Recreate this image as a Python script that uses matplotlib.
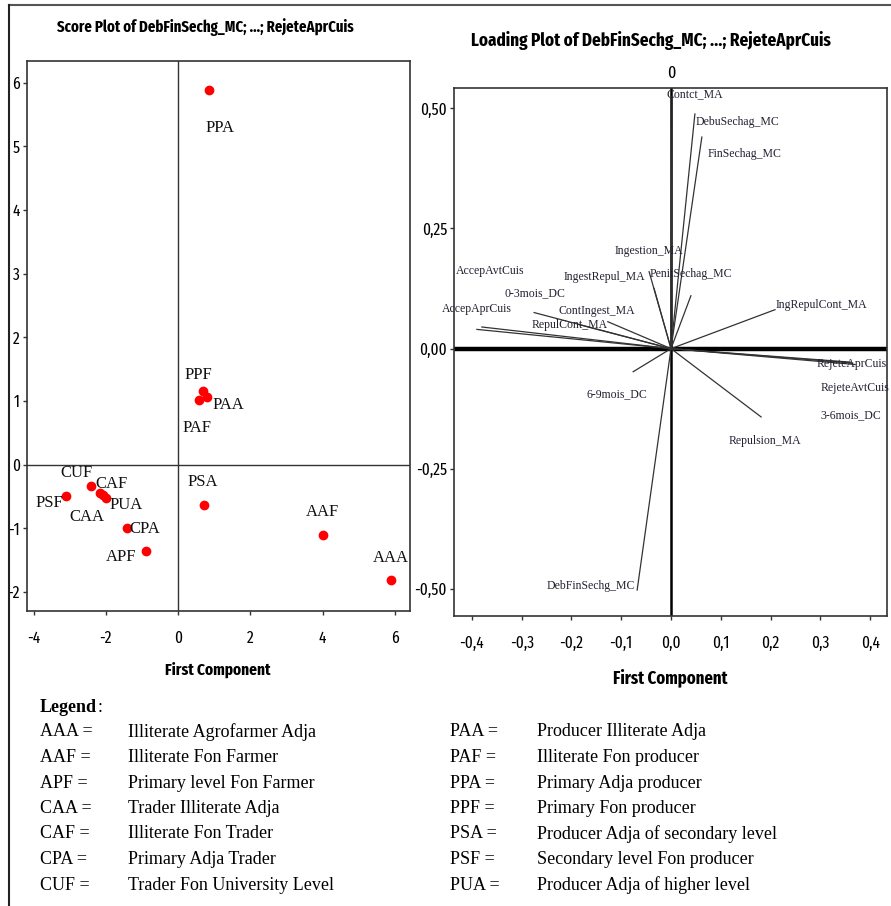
import matplotlib
matplotlib.use("Agg")
import matplotlib.pyplot as plt
import matplotlib.transforms as mtransforms
from matplotlib import font_manager
from matplotlib.ticker import FixedLocator, FuncFormatter

# ---- score plot data (PC1, PC2) ----
groups = ["PPA", "PPF", "PAA", "PAF", "CUF", "CAF", "CAA", "PUA", "PSF", "CPA", "APF", "PSA", "AAF", "AAA"]
score_pc1 = [0.86, 0.69, 0.80, 0.58, -2.41, -2.15, -2.08, -1.99, -3.10, -1.41, -0.89, 0.72, 4.01, 5.89]
score_pc2 = [5.88, 1.16, 1.06, 1.02, -0.33, -0.45, -0.48, -0.53, -0.50, -1.00, -1.36, -0.63, -1.11, -1.81]

# ---- loading plot data (PC1, PC2) ----
variables = ["Contct_MA", "DebuSechag_MC", "FinSechag_MC", "Ingestion_MA", "IngestRepul_MA",
             "PenitSechag_MC", "AccepAvtCuis", "0-3mois_DC", "AccepAprCuis", "ContIngest_MA",
             "RepulCont_MA", "IngRepulCont_MA", "RejeteAprCuis", "RejeteAvtCuis", "3-6mois_DC",
             "6-9mois_DC", "Repulsion_MA", "DebFinSechg_MC"]
load_pc1 = [0.002, 0.048, 0.062, -0.044, -0.034, 0.040, -0.380, -0.275, -0.390, -0.127,
            -0.185, 0.209, 0.370, 0.365, 0.360, -0.076, 0.181, -0.068]
load_pc2 = [0.525, 0.488, 0.440, 0.160, 0.125, 0.110, 0.045, 0.075, 0.040, 0.056,
            0.050, 0.081, -0.033, -0.030, -0.028, -0.048, -0.142, -0.502]

legend_left = [("AAA =", "Illiterate Agrofarmer Adja"), ("AAF =", "Illiterate Fon Farmer"),
               ("APF =", "Primary level Fon Farmer"), ("CAA =", "Trader Illiterate Adja"),
               ("CAF =", "Illiterate Fon Trader"), ("CPA =", "Primary Adja Trader"),
               ("CUF =", "Trader Fon University Level")]
legend_right = [("PAA =", "Producer Illiterate Adja"), ("PAF =", "Illiterate Fon producer"),
                ("PPA =", "Primary Adja producer"), ("PPF =", "Primary Fon producer"),
                ("PSA =", "Producer Adja of secondary level"), ("PSF =", "Secondary level Fon producer"),
                ("PUA =", "Producer Adja of higher level")]

# label offsets in pixels (placement only)
score_offsets = {"PPA": (11, -38), "PPF": (-5, 16), "PAA": (21, -8), "PAF": (-2, -28),
                 "CUF": (-14, 13), "CAF": (11, 9), "CAA": (-16, -22), "PUA": (20, -7),
                 "PSF": (-17, -7), "CPA": (18, -1), "APF": (-25, -6), "PSA": (-1, 23),
                 "AAF": (0, 23), "AAA": (0, 22)}
load_offsets = [(23, 2), (43, -8), (43, -17), (0, 21), (-50, 12), (0, 22), (8, 56), (1, 19),
                (0, 20), (-11, 11), (-9, 0), (46, 5), (-3, 1), (2, -25), (1, -53), (-16, -22),
                (4, -24), (-46, 4)]

names = {f.name for f in font_manager.fontManager.ttflist}
COND = "Fira Sans Extra Condensed" if "Fira Sans Extra Condensed" in names else "Liberation Sans"
SERIF = "Liberation Serif"

fig = plt.figure(figsize=(8.91, 9.06), dpi=100)
fig.patch.set_facecolor("white")

# page border (top and left)
fig.add_artist(plt.Line2D([9 / 891, 1.0], [1 - 5 / 906, 1 - 5 / 906], color="#555555", lw=1.5))
fig.add_artist(plt.Line2D([9 / 891, 9 / 891], [0, 1 - 5 / 906], color="#222222", lw=1.5))


def comma(v, dec):
    return f"{v:.{dec}f}".replace(".", ",")


def style_axes(ax):
    for s in ax.spines.values():
        s.set_color("#333333")
        s.set_linewidth(1.2)
    ax.tick_params(direction="out", length=3, width=1, color="#333333", labelsize=12, pad=2)
    for lab in ax.get_xticklabels() + ax.get_yticklabels():
        lab.set_fontfamily(COND)


# ---------------- score plot ----------------
ax1 = fig.add_axes([27 / 891, 1 - 611 / 906, 383 / 891, 550 / 906])
ax1.set_xlim(-4.18, 6.42)
ax1.set_ylim(-2.30, 6.34)
ax1.axhline(0, color="#333333", lw=1)
ax1.axvline(0, color="#333333", lw=1)
ax1.scatter(score_pc1, score_pc2, s=36, color="red", zorder=3)
for g, x, y in zip(groups, score_pc1, score_pc2):
    dx, dy = score_offsets[g]
    ax1.annotate(g, (x, y), xytext=(dx, dy), textcoords="offset pixels", ha="center", va="center",
                 fontsize=12, family=SERIF, color="#111111")
ax1.xaxis.set_major_locator(FixedLocator([-4, -2, 0, 2, 4, 6]))
ax1.yaxis.set_major_locator(FixedLocator([-2, -1, 0, 1, 2, 3, 4, 5, 6]))
ax1.xaxis.set_major_formatter(FuncFormatter(lambda v, p: f"{v:.0f}"))
ax1.yaxis.set_major_formatter(FuncFormatter(lambda v, p: f"{v:.0f}"))
style_axes(ax1)
ax1.tick_params(axis="x", pad=11)

# ---------------- loading plot ----------------
ax2 = fig.add_axes([454 / 891, 1 - 616 / 906, 433 / 891, 528 / 906])
ax2.set_xlim(-0.436, 0.434)
ax2.set_ylim(-0.556, 0.542)
ax2.axhline(0, color="black", lw=3.2, zorder=1)
ax2.axvline(0, color="black", lw=1.8, zorder=1)
for v, x, y, (dx, dy) in zip(variables, load_pc1, load_pc2, load_offsets):
    ax2.plot([0, x], [0, y], color="#333333", lw=0.9, zorder=2)
    ax2.annotate(v, (x, y), xytext=(dx, dy), textcoords="offset pixels", ha="center", va="center",
                 fontsize=8.5, family=SERIF, color="#222233", annotation_clip=False)
ax2.xaxis.set_major_locator(FixedLocator([-0.4, -0.3, -0.2, -0.1, 0.0, 0.1, 0.2, 0.3, 0.4]))
ax2.yaxis.set_major_locator(FixedLocator([-0.5, -0.25, 0.0, 0.25, 0.5]))
ax2.xaxis.set_major_formatter(FuncFormatter(lambda v, p: comma(v, 1)))
ax2.yaxis.set_major_formatter(FuncFormatter(lambda v, p: comma(v, 2)))
style_axes(ax2)
ax2.tick_params(axis="x", pad=11)
trans = mtransforms.blended_transform_factory(ax2.transData, ax2.transAxes)
ax2.text(0, 1.012, "0", transform=trans, ha="center", va="bottom", fontsize=12.5, family=COND)

# titles and axis labels
fig.text(205 / 891, 1 - 27 / 906, "Score Plot of DebFinSechg_MC; ...; RejeteAprCuis",
         ha="center", va="center", fontsize=11.5, fontweight="bold", family=COND)
fig.text(651 / 891, 1 - 40 / 906, "Loading Plot of DebFinSechg_MC; ...; RejeteAprCuis",
         ha="center", va="center", fontsize=13.3, fontweight="bold", family=COND)
fig.text(218 / 891, 1 - 670 / 906, "First Component", ha="center", va="center",
         fontsize=12, fontweight="bold", family=COND)
fig.text(670 / 891, 1 - 678 / 906, "First Component", ha="center", va="center",
         fontsize=13, fontweight="bold", family=COND)

# legend block
fig.text(40 / 891, 1 - 707 / 906, "Legend", ha="left", va="center", fontsize=13,
         fontweight="bold", family=SERIF)
fig.text(98 / 891, 1 - 707 / 906, ":", ha="left", va="center", fontsize=13, family=SERIF)
row0, step = 732, 25.5
for i, (code, desc) in enumerate(legend_left):
    y = 1 - (row0 + i * step) / 906
    fig.text(40 / 891, y, code, ha="left", va="center", fontsize=13, family=SERIF)
    fig.text(128 / 891, y, desc, ha="left", va="center", fontsize=13, family=SERIF)
for i, (code, desc) in enumerate(legend_right):
    y = 1 - (row0 + i * step) / 906
    fig.text(450 / 891, y, code, ha="left", va="center", fontsize=13, family=SERIF)
    fig.text(537 / 891, y, desc, ha="left", va="center", fontsize=13, family=SERIF)

fig.savefig("out.png", dpi=100, facecolor="white")
